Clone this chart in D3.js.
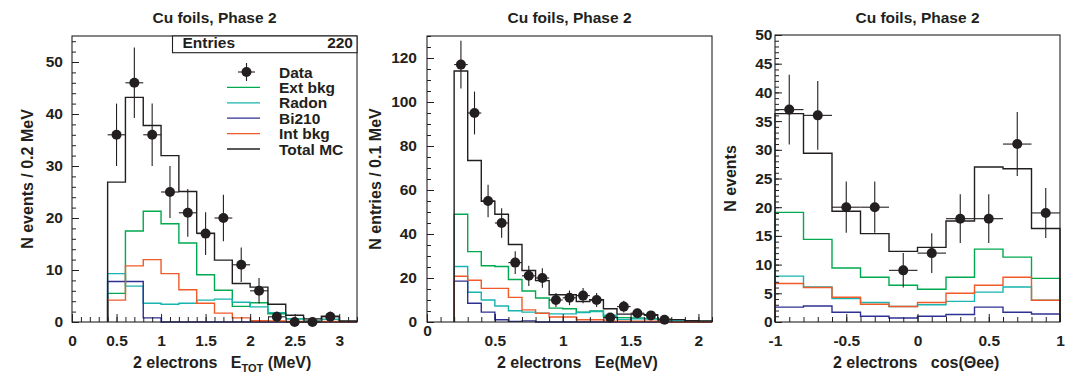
<!DOCTYPE html>
<html>
<head>
<meta charset="utf-8">
<script src="https://cdn.jsdelivr.net/npm/d3@7"></script>
<style>
  body { margin: 0; background: #fff; }
  svg text { font-family: "Liberation Sans", Arial, Helvetica, sans-serif; fill: #231f20; }
</style>
</head>
<body>
<svg id="theSvg" width="1084" height="383"></svg>
<script>
const panelTitle = "Cu foils, Phase 2";
const legendLabels = ["Data", "Ext bkg", "Radon", "Bi210", "Int bkg", "Total MC"];

// panel 1 : total energy, 0.2 MeV bins
const eTotEdges  = [0.4, 0.6, 0.8, 1.0, 1.2, 1.4, 1.6, 1.8, 2.0, 2.2, 2.4, 2.6, 2.8, 3.0, 3.2];
const eTotExt    = [5.5, 17.5, 21.3, 18.9, 15.2, 9.1, 6.1, 3.0, 3.7, 1.6, 0.6, 0.2, 0.5, 0.05];
const eTotRadon  = [9.3, 6.9, 3.6, 3.4, 3.6, 4.2, 4.4, 3.8, 2.9, 1.8, 0.6, 0.3, 0.5, 0.1];
const eTotBi210  = [7.8, 7.8, 0.8, 0, 0, 0, 0, 0, 0, 0, 0, 0, 0, 0];
const eTotInt    = [4.2, 10.8, 12.0, 9.3, 6.2, 3.6, 1.7, 0.8, 0.25, 0.2, 0.1, 0.1, 0.1, 0.05];
const eTotTotal  = [26.9, 43.2, 37.8, 32.0, 25.1, 17.1, 11.9, 7.4, 6.7, 3.4, 1.3, 0.6, 1.1, 0.2];
const eTotCenters = [0.5, 0.7, 0.9, 1.1, 1.3, 1.5, 1.7, 1.9, 2.1, 2.3, 2.5, 2.7, 2.9];
const eTotData    = [36, 46, 36, 25, 21, 17, 20, 11, 6, 1, 0, 0, 1];
const eTotXTicks  = [0, 0.5, 1, 1.5, 2, 2.5, 3];
const eTotYTicks  = [0, 10, 20, 30, 40, 50];

// panel 2 : single electron energy, 0.1 MeV bins
const eeEdges   = [0.2, 0.3, 0.4, 0.5, 0.6, 0.7, 0.8, 0.9, 1.0, 1.1, 1.2, 1.3, 1.4, 1.5, 1.6, 1.7, 1.8, 1.9, 2.0, 2.1];
const eeExt     = [49, 32, 25.6, 25.2, 19.3, 14.1, 10.9, 6.3, 6.0, 4.5, 5.0, 2.5, 2.0, 1.8, 1.5, 0.6, 0.4, 0.2, 0.1];
const eeRadon   = [25.2, 13.5, 10, 7.3, 5.1, 4.5, 4.0, 3.7, 3.7, 4.3, 4.8, 3.1, 1.2, 1.4, 1.4, 0.7, 0.7, 0.4, 0.4];
const eeBi210   = [18.6, 8.5, 4.5, 1.0, 0.3, 0.5, 0, 0, 0, 0, 0, 0, 0, 0, 0, 0, 0, 0, 0];
const eeInt     = [20.8, 19, 15.3, 15.3, 11.2, 5.5, 4.0, 2.3, 2.3, 1.0, 1.0, 0.4, 0.4, 0.4, 0.4, 0, 0, 0, 0];
const eeTotal   = [114.1, 73.4, 54.9, 49.0, 35.2, 23.4, 18.8, 12.4, 12.4, 9.3, 10.1, 6.0, 3.6, 3.6, 3.3, 1.3, 1.1, 0.6, 0.5];
const eeCenters = [0.25, 0.35, 0.45, 0.55, 0.65, 0.75, 0.85, 0.95, 1.05, 1.15, 1.25, 1.35, 1.45, 1.55, 1.65, 1.75];
const eeData    = [117, 95, 55, 45, 27, 21, 20, 10, 11, 12, 10, 2, 7, 4, 3, 1];
const eeXTicks  = [0, 0.5, 1, 1.5, 2];
const eeYTicks  = [0, 20, 40, 60, 80, 100, 120];

// panel 3 : angle between electrons
const cosEdges   = [-1, -0.8, -0.6, -0.4, -0.2, 0, 0.2, 0.4, 0.6, 0.8, 1];
const cosExt     = [19.1, 14.4, 9.4, 7.8, 6.4, 5.7, 7.8, 12.7, 11.3, 7.6];
const cosRadon   = [8.0, 6.1, 4.1, 3.4, 2.7, 3.0, 3.6, 5.2, 6.1, 3.8];
const cosBi210   = [2.6, 2.8, 1.7, 1.0, 0.7, 1.0, 1.3, 2.6, 1.7, 1.4];
const cosInt     = [6.7, 6.0, 4.3, 3.1, 2.7, 3.4, 5.0, 6.4, 7.8, 3.8];
const cosTotal   = [36.3, 29.4, 19.3, 15.4, 12.3, 13.0, 17.6, 27.0, 26.7, 16.3];
const cosCenters = [-0.9, -0.7, -0.5, -0.3, -0.1, 0.1, 0.3, 0.5, 0.7, 0.9];
const cosData    = [37, 36, 20, 20, 9, 12, 18, 18, 31, 19];
const cosXTicks  = [-1, -0.5, 0, 0.5, 1];
const cosYTicks  = [0, 5, 10, 15, 20, 25, 30, 35, 40, 45, 50];

const colours = {
  ext: "#00a94f",
  radon: "#17b4b0",
  bi210: "#2e3192",
  int: "#f05a28",
  total: "#231f20"
};
const ink = "#231f20";
const font = "\"Liberation Sans\", Arial, Helvetica, sans-serif";

const panels = [
  {
    frame: {left: 72, right: 357, top: 36, bottom: 322},
    xDomain: [0, 3.2], yDomain: [0, 55], yMinor: 2, xMinor: 0.1,
    xTicks: eTotXTicks, yTicks: eTotYTicks, yPad: 9,
    edges: eTotEdges,
    hists: {ext: eTotExt, radon: eTotRadon, bi210: eTotBi210, int: eTotInt, total: eTotTotal},
    centers: eTotCenters, counts: eTotData, halfBin: 0.1,
    yTitle: "N events / 0.2 MeV", yTitleX: 33,
    xTitle: ["2 electrons   E", "TOT", " (MeV)"], xTitleX: 133
  },
  {
    frame: {left: 427, right: 712, top: 36, bottom: 322},
    xDomain: [0, 2.1], yDomain: [0, 130], yMinor: 5, xMinor: 0.1,
    xTicks: eeXTicks, yTicks: eeYTicks, yPad: 10, zeroShift: -10,
    edges: eeEdges,
    hists: {ext: eeExt, radon: eeRadon, bi210: eeBi210, int: eeInt, total: eeTotal},
    centers: eeCenters, counts: eeData, halfBin: 0.05,
    yTitle: "N entries / 0.1 MeV", yTitleX: 381,
    xTitle: ["2 electrons   Ee(MeV)"], xTitleX: 497
  },
  {
    frame: {left: 775, right: 1060, top: 35, bottom: 322},
    xDomain: [-1, 1], yDomain: [0, 50], yMinor: 1, xMinor: 0.1,
    xTicks: cosXTicks, yTicks: cosYTicks, yPad: 2.5,
    edges: cosEdges,
    hists: {ext: cosExt, radon: cosRadon, bi210: cosBi210, int: cosInt, total: cosTotal},
    centers: cosCenters, counts: cosData, halfBin: 0.1,
    yTitle: "N events", yTitleX: 736,
    xTitle: ["2 electrons   cos(\u0398ee)"], xTitleX: 833
  }
];

const svg = d3.select("#theSvg");
svg.append("rect").attr("width", 1084).attr("height", 383).attr("fill", "#fff");

function styleAxis(g) {
  g.select(".domain").remove();
  g.selectAll(".tick line").attr("stroke", ink).attr("stroke-width", 1);
  g.selectAll(".tick text")
    .attr("fill", ink)
    .style("font-family", font)
    .style("font-size", "15.5px")
    .style("font-weight", "bold");
}

panels.forEach(function(p, idx) {
  const f = p.frame;
  const x = d3.scaleLinear().domain(p.xDomain).range([f.left, f.right]);
  const y = d3.scaleLinear().domain(p.yDomain).range([f.bottom, f.top]);
  const g = svg.append("g").attr("class", "panel" + idx);

  // title
  g.append("text")
    .attr("x", (f.left + f.right) / 2)
    .attr("y", 23)
    .attr("text-anchor", "middle")
    .style("font-size", "15.5px")
    .style("font-weight", "bold")
    .text(panelTitle);

  // histograms
  const line = d3.line()
    .x(d => x(d[0]))
    .y(d => y(d[1]))
    .curve(d3.curveStepAfter);

  ["ext", "radon", "bi210", "int", "total"].forEach(function(key) {
    const vals = p.hists[key];
    let pts = [[p.edges[0], 0]];
    vals.forEach((v, i) => pts.push([p.edges[i], v]));
    pts.push([p.edges[p.edges.length - 1], 0]);
    g.append("path")
      .attr("d", line(pts))
      .attr("fill", "none")
      .attr("stroke", colours[key])
      .attr("stroke-width", 1.4);
  });

  // frame
  g.append("rect")
    .attr("x", f.left).attr("y", f.top)
    .attr("width", f.right - f.left).attr("height", f.bottom - f.top)
    .attr("fill", "none").attr("stroke", ink).attr("stroke-width", 1.1);

  // axes, ticks inside the frame
  const yMinorTicks = d3.range(p.yDomain[0], p.yDomain[1] + 1e-6, p.yMinor);
  const xMinorTicks = d3.range(p.xDomain[0], p.xDomain[1] + 1e-6, p.xMinor);

  g.append("g")
    .attr("transform", "translate(" + f.left + ",0)")
    .call(d3.axisLeft(y).tickValues(yMinorTicks).tickSize(-4).tickFormat(""))
    .call(styleAxis);
  g.append("g")
    .attr("transform", "translate(" + f.left + ",0)")
    .call(d3.axisLeft(y).tickValues(p.yTicks).tickSize(-7).tickPadding(p.yPad).tickFormat(d => String(d)))
    .call(styleAxis);

  g.append("g")
    .attr("transform", "translate(0," + f.bottom + ")")
    .call(d3.axisBottom(x).tickValues(xMinorTicks).tickSize(-5).tickFormat(""))
    .call(styleAxis);
  const xAxis = g.append("g")
    .attr("transform", "translate(0," + f.bottom + ")")
    .call(d3.axisBottom(x).tickValues(p.xTicks).tickSize(-8).tickPadding(13).tickFormat(d => String(d)))
    .call(styleAxis);
  if (p.zeroShift) {
    xAxis.selectAll(".tick text").filter(d => d === 0).attr("y", 13 + p.zeroShift);
  }

  // data points with error bars
  const pts = g.append("g").attr("class", "dataPoints");
  p.centers.forEach(function(c, i) {
    const n = p.counts[i];
    const err = Math.sqrt(n);
    pts.append("line")
      .attr("x1", x(c - p.halfBin)).attr("x2", x(c + p.halfBin))
      .attr("y1", y(n)).attr("y2", y(n))
      .attr("stroke", ink).attr("stroke-width", 1.1);
    if (err > 0) {
      pts.append("line")
        .attr("x1", x(c)).attr("x2", x(c))
        .attr("y1", y(n - err)).attr("y2", y(n + err))
        .attr("stroke", ink).attr("stroke-width", 1.1);
    }
    pts.append("circle")
      .attr("cx", x(c)).attr("cy", y(n)).attr("r", 5)
      .attr("fill", ink);
  });

  // axis titles
  g.append("text")
    .attr("transform", "translate(" + p.yTitleX + "," + ((f.top + f.bottom) / 2) + ") rotate(-90)")
    .attr("text-anchor", "middle")
    .style("font-size", "16px")
    .style("font-weight", "bold")
    .text(p.yTitle);

  const xt = g.append("text")
    .attr("x", p.xTitleX)
    .attr("y", 368)
    .style("font-size", "16px")
    .style("font-weight", "bold")
    .style("white-space", "pre");
  xt.append("tspan").text(p.xTitle[0]);
  if (p.xTitle.length > 1) {
    xt.append("tspan").attr("dy", 4).style("font-size", "11px").text(p.xTitle[1]);
    xt.append("tspan").attr("dy", -4).text(p.xTitle[2]);
  }
});

// stats box and legend on the first panel
const f0 = panels[0].frame;
const leg = svg.append("g").attr("class", "legend");
leg.append("rect")
  .attr("x", 172.5).attr("y", f0.top)
  .attr("width", f0.right - 172.5).attr("height", 16.7)
  .attr("fill", "#fff").attr("stroke", ink).attr("stroke-width", 1.1);
leg.append("text")
  .attr("x", 182.5).attr("y", 48)
  .style("font-size", "15.5px").style("font-weight", "bold")
  .text("Entries");
leg.append("text")
  .attr("x", 353).attr("y", 48)
  .attr("text-anchor", "end")
  .style("font-size", "15.5px").style("font-weight", "bold")
  .text(d3.sum(eTotData));

const legendKeys = ["data", "ext", "radon", "bi210", "int", "total"];
legendLabels.forEach(function(label, i) {
  const cy = 72 + i * 15.4;
  if (legendKeys[i] === "data") {
    leg.append("line").attr("x1", 238).attr("x2", 255).attr("y1", cy).attr("y2", cy)
      .attr("stroke", ink).attr("stroke-width", 1.1);
    leg.append("line").attr("x1", 246.5).attr("x2", 246.5).attr("y1", cy - 9).attr("y2", cy + 9)
      .attr("stroke", ink).attr("stroke-width", 1.1);
    leg.append("circle").attr("cx", 246.5).attr("cy", cy).attr("r", 5).attr("fill", ink);
  } else {
    leg.append("line").attr("x1", 227).attr("x2", 260).attr("y1", cy).attr("y2", cy)
      .attr("stroke", colours[legendKeys[i]]).attr("stroke-width", 1.3);
  }
  leg.append("text")
    .attr("x", 279).attr("y", cy + 5.5)
    .style("font-size", "15.5px").style("font-weight", "bold")
    .text(label);
});
</script>
</body>
</html>
